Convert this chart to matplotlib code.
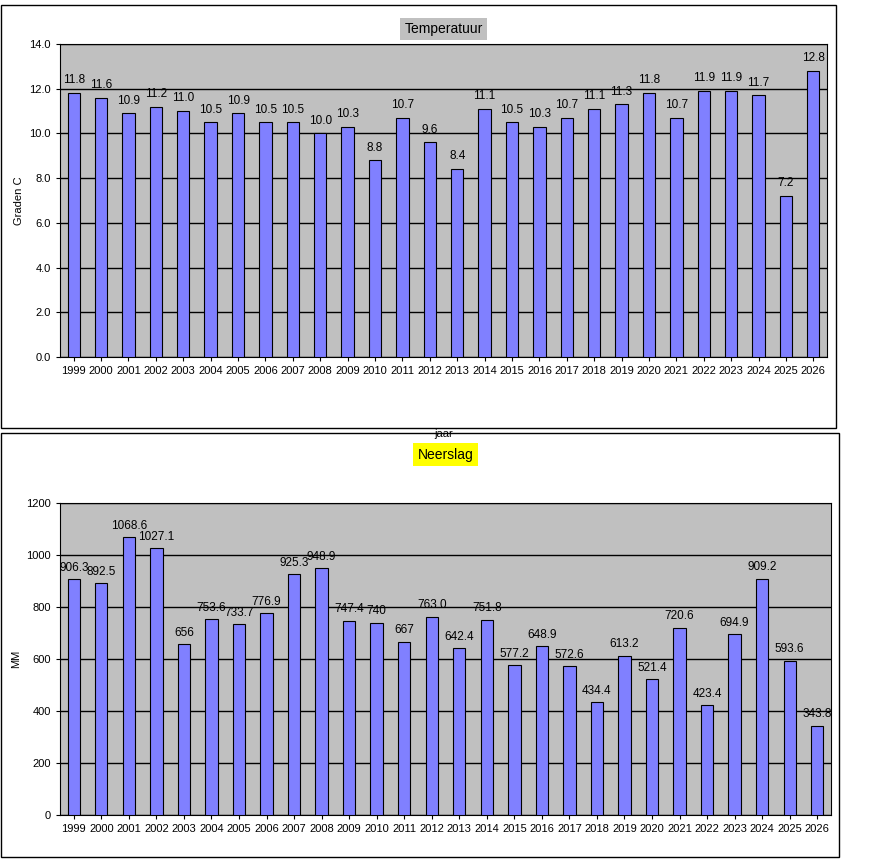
import numpy as np
import matplotlib.pyplot as plt
import pandas as pd
from matplotlib.patches import Rectangle
jaren = list(range(1999, 2027))
temp = [11.8, 11.6, 10.9, 11.2, 11.0, 10.5, 10.9, 10.5, 10.5, 10.0, 10.3, 8.8, 10.7, 9.6, 8.4, 11.1, 10.5, 10.3, 10.7, 11.1, 11.3, 11.8, 10.7, 11.9, 11.9, 11.7, 7.2, 12.8]
neerslag = ['906.3', '892.5', '1068.6', '1027.1', '656', '753.6', '733.7', '776.9', '925.3', '948.9', '747.4', '740', '667', '763.0', '642.4', '751.8', '577.2', '648.9', '572.6', '434.4', '613.2', '521.4', '720.6', '423.4', '694.9', '909.2', '593.6', '343.8']
df = pd.DataFrame({'jaar': jaren, 'temp': temp, 'neerslag': [float(v) for v in neerslag]})
plt.rcParams['font.family'] = 'Liberation Sans'
plt.rcParams['font.size'] = 8
fig = plt.figure(figsize=(8.73, 8.68), dpi=100)
# panel frames
fig.patches.append(Rectangle((0.001, 1 - 428/868), 835/873, 423/868, transform=fig.transFigure, fill=False, edgecolor='k', lw=1))
fig.patches.append(Rectangle((0.001, 1 - 857/868), 838/873, 424/868, transform=fig.transFigure, fill=False, edgecolor='k', lw=1))
x = np.arange(len(df))
ax1 = fig.add_axes([60/873, 1 - 357/868, 767/873, 313/868])
ax1.set_facecolor('#c0c0c0')
ax1.bar(x, df['temp'], width=0.45, color='#8080ff', edgecolor='k', lw=0.8, zorder=3)
for i, v in enumerate(df['temp']):
    ax1.text(i, v + 0.3, '%.1f' % v, ha='center', va='bottom', fontsize=8.5)
ax1.set_ylim(0, 14)
ax1.set_yticks(np.arange(0, 14.1, 2))
ax1.yaxis.set_major_formatter('{x:.1f}')
ax1.set_xlim(-0.5, len(df) - 0.5)
ax1.set_xticks(x)
ax1.set_xticklabels(df['jaar'])
ax1.grid(True, axis='y', color='k', lw=1, zorder=0)
ax1.set_ylabel('Graden C')
ax1.set_xlabel('jaar', labelpad=38)
ax1.set_title('Temperatuur', fontsize=10, pad=8, bbox=dict(facecolor='#c0c0c0', edgecolor='none', pad=3))
ax1.tick_params(length=3)
ax2 = fig.add_axes([60/873, 1 - 815/868, 771/873, 312/868])
ax2.set_facecolor('#c0c0c0')
ax2.bar(x, df['neerslag'], width=0.45, color='#8080ff', edgecolor='k', lw=0.8, zorder=3)
for i, v in enumerate(neerslag):
    ax2.text(i, float(v) + 20, v, ha='center', va='bottom', fontsize=8.5)
ax2.set_ylim(0, 1200)
ax2.set_yticks(np.arange(0, 1201, 200))
ax2.set_xlim(-0.5, len(df) - 0.5)
ax2.set_xticks(x)
ax2.set_xticklabels(df['jaar'])
ax2.grid(True, axis='y', color='k', lw=1, zorder=0)
ax2.set_ylabel('MM')
ax2.set_title('Neerslag', fontsize=10, pad=32, bbox=dict(facecolor='yellow', edgecolor='none', pad=3))
ax2.tick_params(length=3)
plt.savefig('out.png')
